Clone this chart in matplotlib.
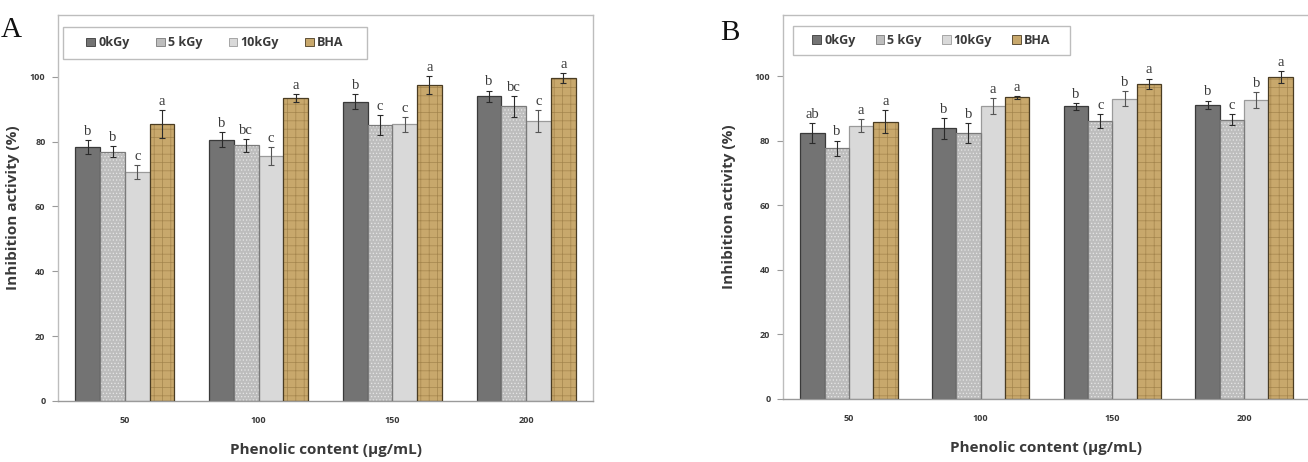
import numpy as np
import matplotlib
matplotlib.use("Agg")
import matplotlib.pyplot as plt
from matplotlib.patches import Patch, Rectangle

plt.rcParams['font.family'] = ['Open Sans', 'DejaVu Sans']
plt.rcParams['hatch.linewidth'] = 0.5

# data
concentrations = ['50', '100', '150', '200']
series = ['0kGy', '5 kGy', '10kGy', 'BHA']

a_vals = [[78.3, 80.5, 92.3, 94.0],
          [76.9, 78.8, 85.1, 90.8],
          [70.6, 75.6, 85.3, 86.4],
          [85.5, 93.4, 97.3, 99.6]]
a_errs = [[2.2, 2.3, 2.2, 1.7],
          [1.8, 2.0, 3.0, 3.1],
          [2.1, 2.7, 2.3, 3.4],
          [4.3, 1.2, 2.8, 1.5]]
a_letters = [['b', 'b', 'b', 'b'],
             ['b', 'bc', 'c', 'bc'],
             ['c', 'c', 'c', 'c'],
             ['a', 'a', 'a', 'a']]

b_vals = [[82.4, 83.9, 90.7, 91.2],
          [77.7, 82.4, 86.2, 86.6],
          [84.7, 90.8, 93.1, 92.6],
          [85.9, 93.5, 97.7, 99.7]]
b_errs = [[3.0, 3.3, 1.0, 1.3],
          [2.4, 3.0, 2.2, 1.7],
          [2.0, 2.4, 2.3, 2.5],
          [3.6, 0.5, 1.6, 1.8]]
b_letters = [['ab', 'b', 'b', 'b'],
             ['b', 'b', 'c', 'c'],
             ['a', 'a', 'b', 'b'],
             ['a', 'a', 'a', 'a']]

faces = ['#737373', '#bdbdbd', '#d9d9d9', '#c8a86c']
hatches = [None, '.....', None, '++']
hatch_cols = [None, '#e6e6e6', None, '#a4854d']
edges = ['#3a3a3a', '#7a7a7a', '#9a9a9a', '#4a3c22']
ecols = ['#2a2a2a', '#2a2a2a', '#555555', '#2a2a2a']
txt = '#3a3a3a'

W, H = 1308, 462
fig = plt.figure(figsize=(W / 100, H / 100), dpi=100)


def draw_panel(rect, vals, errs, letters, legend_box, colsp, tag, tag_xy, ylab_x):
    ax = fig.add_axes(rect)
    x = np.arange(len(concentrations))
    w = 0.185
    for i in range(len(series)):
        pos = x + (i - 1.5) * w
        if hatches[i]:
            ax.bar(pos, vals[i], w, color=faces[i], hatch=hatches[i],
                   edgecolor=hatch_cols[i], linewidth=0, zorder=2)
            ax.bar(pos, vals[i], w, fill=False, edgecolor=edges[i],
                   linewidth=0.9, zorder=3)
        else:
            ax.bar(pos, vals[i], w, color=faces[i], edgecolor=edges[i],
                   linewidth=0.9, zorder=2)
        ax.errorbar(pos, vals[i], yerr=errs[i], fmt='none', ecolor=ecols[i],
                    elinewidth=0.8, capsize=2, capthick=0.8, zorder=4)
        for p, v, e, lab in zip(pos, vals[i], errs[i], letters[i]):
            ax.annotate(lab, (p, v + e), xytext=(0, 1.5), textcoords='offset points',
                        ha='center', va='bottom', fontsize=10.5, color=txt,
                        family='Liberation Serif')

    ax.set_xlim(-0.5, len(concentrations) - 0.5)
    ax.set_ylim(0, 119)
    ax.set_yticks(range(0, 101, 20))
    ax.set_xticks(x)
    ax.set_xticklabels(concentrations)
    for s in ax.spines.values():
        s.set_color('#bdbdbd')
        s.set_linewidth(1)
    ax.spines['bottom'].set_color('#9a9a9a')
    ax.tick_params(axis='y', length=4, width=0.8, color='#9a9a9a', pad=5,
                   labelsize=6.5, labelcolor=txt)
    ax.tick_params(axis='x', length=0, pad=11, labelsize=6.5, labelcolor=txt)
    for t in ax.get_xticklabels() + ax.get_yticklabels():
        t.set_fontweight('bold')

    ax.set_xlabel('Phenolic content (\u03bcg/mL)', fontsize=11, fontweight='bold',
                  color=txt, labelpad=13)
    ax.set_ylabel('Inhibition activity (%)', fontsize=11, fontweight='bold',
                  color=txt)
    ax_w = rect[2] * W
    ax.yaxis.set_label_coords(ylab_x / ax_w, 0.5)

    # legend box drawn separately, entries centred in it
    bx, by, bw, bh = legend_box
    ax.add_patch(Rectangle((bx, by), bw, bh, transform=ax.transAxes,
                           facecolor='white', edgecolor='#bdbdbd',
                           linewidth=1, zorder=5))
    handles = [Patch(facecolor=faces[i], edgecolor=edges[i], linewidth=0.6)
               for i in range(len(series))]
    leg = ax.legend(handles, series, ncol=4, loc='center',
                    bbox_to_anchor=(bx + bw / 2, by + bh / 2), frameon=False,
                    handlelength=0.7, handleheight=0.7, handletextpad=0.25,
                    columnspacing=colsp, borderaxespad=0, borderpad=0,
                    prop={'weight': 'bold', 'size': 9})
    leg.set_zorder(6)
    for t in leg.get_texts():
        t.set_color(txt)

    fig.text(tag_xy[0] / W, 1 - tag_xy[1] / H, tag, fontsize=21,
             family='Liberation Serif', ha='left', va='baseline', color='#111111')
    return ax


# panel A: axes 58..593 px, 15..401 px
draw_panel([58 / W, (H - 401) / H, 535 / W, 386 / H], a_vals, a_errs, a_letters,
           (5 / 535, 0.886, 304 / 535, 0.083), 2.1, 'A', (1, 37), -38)
# panel B: axes 783..1310 px, 15..399 px
draw_panel([783 / W, (H - 399) / H, 527 / W, 384 / H], b_vals, b_errs, b_letters,
           (10 / 527, 0.896, 277 / 527, 0.075), 1.6, 'B', (720, 40), -47)

fig.savefig('out.png', dpi=100)
